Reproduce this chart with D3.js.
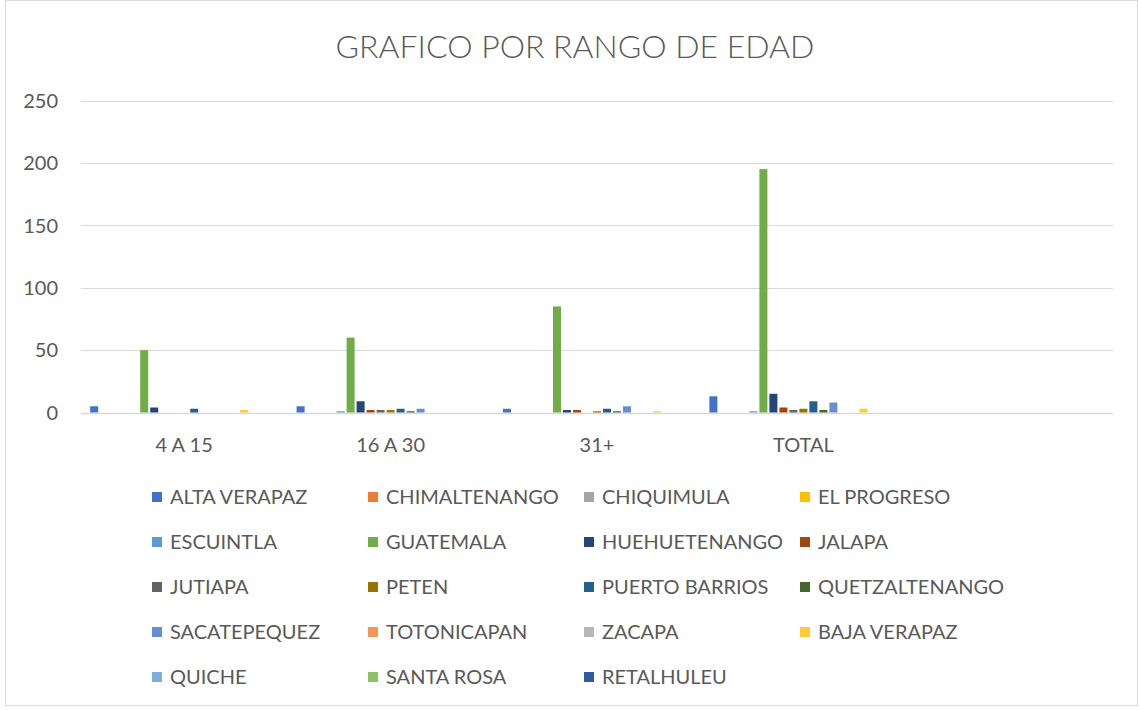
<!DOCTYPE html>
<html>
<head>
<meta charset="utf-8">
<script src="https://cdn.jsdelivr.net/npm/d3@7"></script>
<style>
  body { margin: 0; background: #fff; }
  text { font-family: Lato, "Open Sans", sans-serif; fill: #595959; }
</style>
</head>
<body>
<div id="chart"></div>
<script>
var categories = ["4 A 15", "16 A 30", "31+", "TOTAL", ""];
var seriesNames = ["ALTA VERAPAZ", "CHIMALTENANGO", "CHIQUIMULA", "EL PROGRESO",
    "ESCUINTLA", "GUATEMALA", "HUEHUETENANGO", "JALAPA",
    "JUTIAPA", "PETEN", "PUERTO BARRIOS", "QUETZALTENANGO",
    "SACATEPEQUEZ", "TOTONICAPAN", "ZACAPA", "BAJA VERAPAZ",
    "QUICHE", "SANTA ROSA", "RETALHULEU"];
var seriesColors = ["#4472C4", "#ED7D31", "#A5A5A5", "#FFC000",
    "#5B9BD5", "#70AD47", "#264478", "#9E480E",
    "#636363", "#997300", "#255E91", "#43682B",
    "#698ED0", "#F1975A", "#B7B7B7", "#FFCD33",
    "#7CAFDD", "#8CC168", "#335AA1"];
// one row per series, one value per category
var values = [
    [5, 5, 3, 13, 0],
    [0, 0, 0, 0, 0],
    [0, 0, 0, 0, 0],
    [0, 0, 0, 0, 0],
    [0, 1, 0, 1, 0],
    [50, 60, 85, 195, 0],
    [4, 9, 2, 15, 0],
    [0, 2, 2, 4, 0],
    [0, 2, 0, 2, 0],
    [0, 2, 1, 3, 0],
    [3, 3, 3, 9, 0],
    [0, 1, 1, 2, 0],
    [0, 3, 5, 8, 0],
    [0, 0, 0, 0, 0],
    [0, 0, 0, 0, 0],
    [2, 0, 1, 3, 0],
    [0, 0, 0, 0, 0],
    [0, 0, 0, 0, 0],
    [0, 0, 0, 0, 0]
];
var yTicks = [0, 50, 100, 150, 200, 250];

var W = 1139, H = 710;
var plot = { left: 81, right: 1113, top: 100.5, bottom: 412.5 };

var svg = d3.select("#chart").append("svg")
    .attr("width", W)
    .attr("height", H);

// chart frame
svg.append("rect")
    .attr("x", 5.5).attr("y", 0.5)
    .attr("width", W - 7).attr("height", H - 5)
    .style("fill", "none")
    .style("stroke", "#d9d9d9");

svg.append("text")
    .attr("x", 575)
    .attr("y", 58)
    .attr("text-anchor", "middle")
    .style("font-size", "32px")
    .style("font-weight", 300)
    .text("GRAFICO POR RANGO DE EDAD");

var x0 = d3.scaleBand()
    .domain(categories.map(function(d, i) { return i; }))
    .range([plot.left, plot.right]);

var x1 = d3.scaleBand()
    .domain(seriesNames)
    .range([0, x0.bandwidth()])
    .paddingInner(0.2)
    .paddingOuter(0.92);

var y = d3.scaleLinear()
    .domain([0, 250])
    .range([plot.bottom, plot.top]);

// gridlines
svg.append("g").selectAll("line")
    .data(yTicks)
    .enter()
    .append("line")
    .attr("x1", plot.left)
    .attr("x2", plot.right)
    .attr("y1", d => Math.round(y(d)) + 0.5)
    .attr("y2", d => Math.round(y(d)) + 0.5)
    .style("stroke", "#d9d9d9")
    .style("stroke-width", d => d === 0 ? 1.5 : 1);

svg.append("g").selectAll("text")
    .data(yTicks)
    .enter()
    .append("text")
    .attr("x", 58)
    .attr("y", d => y(d))
    .attr("dy", "0.36em")
    .attr("text-anchor", "end")
    .style("font-size", "20px")
    .text(d => d);

// bars
var groups = svg.append("g").selectAll("g")
    .data(categories.map(function(c, ci) { return ci; }))
    .enter()
    .append("g")
    .attr("transform", d => "translate(" + x0(d) + ",0)");

groups.selectAll("rect")
    .data(ci => seriesNames.map(function(s, si) { return { s: s, si: si, v: values[si][ci] }; }))
    .enter()
    .append("rect")
    .filter(d => d.v > 0)
    .attr("x", d => x1(d.s))
    .attr("width", x1.bandwidth())
    .attr("y", d => y(d.v))
    .attr("height", d => y(0) - y(d.v))
    .style("fill", d => seriesColors[d.si]);

// category labels
svg.append("g").selectAll("text")
    .data(categories)
    .enter()
    .append("text")
    .attr("x", (d, i) => x0(i) + x0.bandwidth() / 2)
    .attr("y", 452)
    .attr("text-anchor", "middle")
    .style("font-size", "20px")
    .text(d => d);

// legend
var legend = svg.append("g").attr("class", "legend");
var item = legend.selectAll("g")
    .data(seriesNames)
    .enter()
    .append("g")
    .attr("transform", (d, i) => "translate(" + (152 + (i % 4) * 216) + "," + (497 + Math.floor(i / 4) * 45) + ")");

item.append("rect")
    .attr("x", 0)
    .attr("y", -5)
    .attr("width", 10)
    .attr("height", 10)
    .style("fill", (d, i) => seriesColors[i]);

item.append("text")
    .attr("x", 18)
    .attr("y", 0)
    .attr("dy", "0.36em")
    .style("font-size", "20px")
    .text(d => d);
</script>
</body>
</html>
